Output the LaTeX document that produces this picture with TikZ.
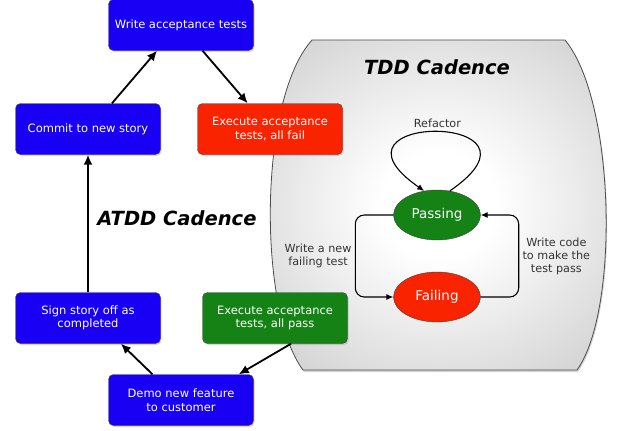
\documentclass[tikz,border=0pt]{standalone}
\usepackage{fontspec}
\setmainfont{DejaVu Sans}
\usetikzlibrary{arrows.meta,shapes.geometric,shadows}

\definecolor{atddblue}{RGB}{25,0,245}
\definecolor{atddred}{RGB}{250,35,0}
\definecolor{atddgreen}{RGB}{20,130,20}
\pgfdeclareradialshading{tddshade}{\pgfpoint{0bp}{0bp}}{color(0bp)=(white); color(8bp)=(white); color(50bp)=(black!30); color(72bp)=(black!30)}

\begin{document}
\begin{tikzpicture}[x=1pt, y=-1pt]
        \tikzstyle{box}=[rectangle, rounded corners=5pt, draw=black!75, text=white, minimum width=145pt, minimum height=51pt, align=center, font=\fontsize{11.5}{13.5}\selectfont, drop shadow={opacity=0.3, shadow xshift=1pt, shadow yshift=-1.5pt}]
        \tikzstyle{state}=[ellipse, draw=black!75, text=white, minimum width=87pt, minimum height=50pt, font=\fontsize{13.5}{15}\selectfont]
        \tikzstyle{bigarrow}=[line width=1.8pt, -{Latex[length=10pt,width=9pt]}]
        \tikzstyle{smallarrow}=[line width=1.1pt, -{Latex[length=7pt,width=6pt]}]
        \tikzstyle{note}=[align=center, text=black!80, font=\fontsize{11.2}{13}\selectfont]
        \tikzstyle{title}=[font=\fontsize{19.5}{22}\selectfont\bfseries\itshape]
        \useasboundingbox (0,0) rectangle (624,431);
        % TDD region
        \shadedraw[shading=tddshade, draw=black!70, line width=0.8pt, drop shadow={opacity=0.35, shadow xshift=1pt, shadow yshift=-2pt}] (312,40) -- (565,40) .. controls (615,100) and (620,310) .. (577,370) -- (303,370) .. controls (258,310) and (258,100) .. (312,40) -- cycle;
        \node[title] (tddtitle) at (437,67) {TDD Cadence};
        \node[title] (atddtitle) at (177,218) {ATDD Cadence};
        % ATDD boxes
        \node[box, fill=atddblue] (write) at (181,25) {Write acceptance tests};
        \node[box, fill=atddblue] (commit) at (88,129) {Commit to new story};
        \node[box, fill=atddred] (allfail) at (270,129) {Execute acceptance\\tests, all fail};
        \node[box, fill=atddblue] (sign) at (88,318) {Sign story off as\\completed};
        \node[box, fill=atddgreen] (allpass) at (275,318) {Execute acceptance\\tests, all pass};
        \node[box, fill=atddblue] (demo) at (181,400) {Demo new feature\\to customer};
        \draw[bigarrow] (commit.47) -- (write.227);
        \draw[bigarrow] (write.310) -- (allfail.131);
        \draw[bigarrow] (sign.north) -- (commit.south);
        \draw[bigarrow] (demo.138) -- (sign.322);
        \draw[bigarrow] (allpass.302) -- (demo.24);
        % TDD states
        \node[state, fill=atddgreen] (passing) at (437,215) {Passing};
        \node[state, fill=atddred] (failing) at (437,297) {Failing};
        \draw[smallarrow] (passing.62) .. controls (565,112) and (310,112) .. node[above, note] (refactor) {Refactor} (passing.118);
        \draw[smallarrow, rounded corners=9pt] (passing.west) -- ++(-38,0) |- node[pos=0.25, left, note] (newtest) {Write a new\\failing test} (failing.west);
        \draw[smallarrow, rounded corners=9pt] (failing.east) -- ++(38,0) |- node[pos=0.25, right, note] (makepass) {Write code\\to make the\\test pass} (passing.east);
    \end{tikzpicture}
\end{document}
